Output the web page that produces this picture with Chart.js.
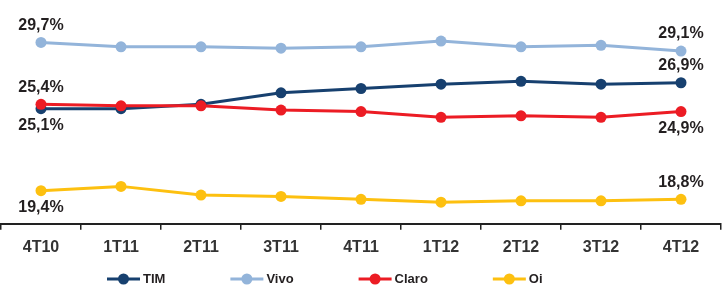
<!DOCTYPE html>
<html>
<head>
<meta charset="utf-8">
<script src="https://cdn.jsdelivr.net/npm/chart.js@4.4.1/dist/chart.umd.min.js"></script>
<style>
  html, body { margin: 0; padding: 0; background: #fff; }
  #wrap { width: 725px; height: 288px; position: relative; }
</style>
</head>
<body>
<div id="wrap"><canvas id="chart"></canvas></div>
<script>
const quarters = ['4T10', '1T11', '2T11', '3T11', '4T11', '1T12', '2T12', '3T12', '4T12']
const tim   = [25.1, 25.1, 25.4, 26.2, 26.5, 26.8, 27.0, 26.8, 26.9]
const vivo  = [29.7, 29.4, 29.4, 29.3, 29.4, 29.8, 29.4, 29.5, 29.1]
const claro = [25.4, 25.3, 25.3, 25.0, 24.9, 24.5, 24.6, 24.5, 24.9]
const oi    = [19.4, 19.7, 19.1, 19.0, 18.8, 18.6, 18.7, 18.7, 18.8]

// where the first / last value label sits for each series
const firstLabelSide = ['below', 'above', 'above', 'below']
const lastLabelSide  = ['above', 'above', 'below', 'above']

const FONT = '"Liberation Sans", Arial, Helvetica, sans-serif'
const TEXT = '#231f20'

const fmt = v => v.toFixed(1).replace('.', ',') + '%'

function series(label, data, color, order) {
  return {
    label: label,
    data: data,
    borderColor: color,
    backgroundColor: color,
    borderWidth: 3,
    pointRadius: 5.5,
    pointBorderWidth: 0,
    pointBackgroundColor: color,
    tension: 0,
    clip: false,
    order: order
  }
}

// value labels on first and last points
const endLabels = {
  id: 'endLabels',
  afterDatasetsDraw(chart) {
    const ctx = chart.ctx
    ctx.save()
    ctx.font = 'bold 16px ' + FONT
    ctx.fillStyle = TEXT
    ctx.textAlign = 'center'
    ctx.textBaseline = 'middle'
    chart.data.datasets.forEach((ds, i) => {
      const pts = chart.getDatasetMeta(i).data
      const last = pts.length - 1
      ;[[0, firstLabelSide[i]], [last, lastLabelSide[i]]].forEach(([j, side]) => {
        const p = pts[j]
        const dy = side === 'above' ? -17 : 17
        ctx.fillText(fmt(ds.data[j]), p.x, p.y + dy)
      })
    })
    ctx.restore()
  }
}

// legend with line + dot markers
const lineLegend = {
  id: 'lineLegend',
  afterDraw(chart) {
    const ctx = chart.ctx
    const y = chart.height - 9
    let x = 107
    ctx.save()
    ctx.font = 'bold 13px ' + FONT
    ctx.textBaseline = 'middle'
    ctx.textAlign = 'left'
    chart.data.datasets.forEach(ds => {
      ctx.strokeStyle = ds.borderColor
      ctx.lineWidth = 3
      ctx.beginPath()
      ctx.moveTo(x, y)
      ctx.lineTo(x + 33, y)
      ctx.stroke()
      ctx.fillStyle = ds.borderColor
      ctx.beginPath()
      ctx.arc(x + 16.5, y, 5.5, 0, Math.PI * 2)
      ctx.fill()
      ctx.fillStyle = TEXT
      ctx.fillText(ds.label, x + 36, y)
      x += 36 + ctx.measureText(ds.label).width + 65
    })
    ctx.restore()
  }
}

new Chart(document.getElementById('chart'), {
  type: 'line',
  data: {
    labels: quarters,
    datasets: [
      series('TIM', tim, '#17406f', 2),
      series('Vivo', vivo, '#93b4da', 3),
      series('Claro', claro, '#ec1c24', 1),
      series('Oi', oi, '#fdc010', 4)
    ]
  },
  options: {
    responsive: true,
    maintainAspectRatio: false,
    animation: false,
    layout: { autoPadding: false, padding: { left: 1, right: 4, top: 0, bottom: 23 } },
    plugins: {
      legend: { display: false },
      tooltip: { enabled: false }
    },
    scales: {
      x: {
        offset: true,
        grid: {
          offset: true,
          drawOnChartArea: false,
          drawTicks: true,
          tickLength: 6,
          color: '#222',
          lineWidth: 1.5
        },
        border: { color: '#222', width: 2 },
        ticks: {
          color: '#333',
          padding: 8,
          font: { family: FONT, size: 16, weight: 'bold' }
        }
      },
      y: { display: false, min: 17.1, max: 32.65 }
    }
  },
  plugins: [endLabels, lineLegend]
})
</script>
</body>
</html>
